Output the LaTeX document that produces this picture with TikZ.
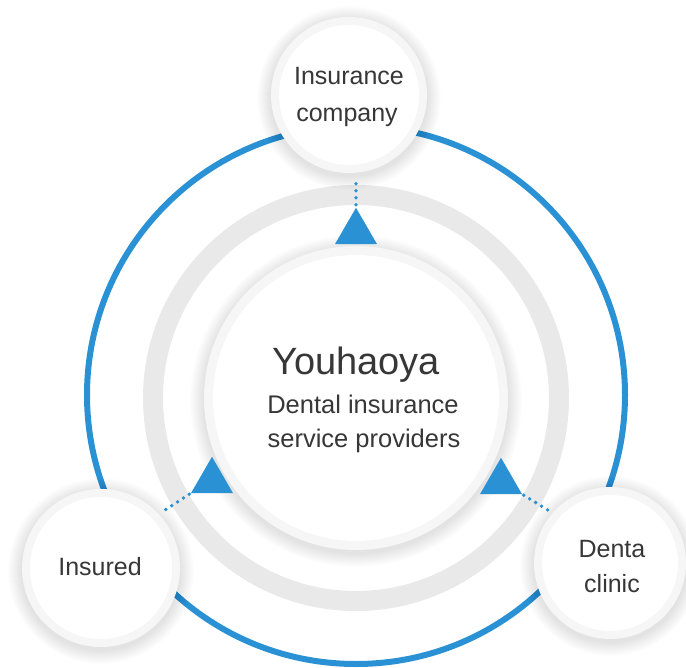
\documentclass[tikz,border=0pt]{standalone}
\usepackage{fontspec}
\setmainfont{Liberation Sans}
\usetikzlibrary{shapes.geometric}
\definecolor{myblue}{RGB}{42,146,212}
\definecolor{ringgray}{RGB}{233,233,233}
\definecolor{rimgray}{RGB}{246,246,246}
\definecolor{txt}{RGB}{55,55,55}
\newcommand\softshade[2]{%
  \foreach \k in {1,...,14} {\fill[black, opacity=0.007] ([yshift=-3pt]#1) circle ({#2+\k});}}
\tikzset{
  bubble/.style={circle, inner sep=0pt, outer sep=0pt, fill=rimgray},
  arrowtri/.style={regular polygon, regular polygon sides=3, minimum size=48.5pt, inner sep=0pt, outer sep=0pt, fill=myblue},
  dotline/.style={myblue, line width=3.8pt, line cap=round, dash pattern=on 0pt off 7pt},
  lbl/.style={text=txt, anchor=base, inner sep=0pt, font=\fontsize{25}{30}\selectfont},
  title/.style={text=txt, anchor=base, inner sep=0pt, font=\fontsize{38}{44}\selectfont},
  sub/.style={text=txt, anchor=base, inner sep=0pt, font=\fontsize{25.5}{30}\selectfont},
}
\begin{document}
\begin{tikzpicture}[x=1pt,y=-1pt]
\fill[white] (0,0) rectangle (686,668);
\useasboundingbox (0,0) rectangle (686,668);
\coordinate (ccore) at (356,398);
\coordinate (cins) at (349,95);
\coordinate (cinsured) at (101,568);
\coordinate (cclinic) at (610,563);
% blue outer circle
\draw[myblue, line width=6pt] (356,395) circle (269);
% gray ring
\draw[ringgray, line width=20pt] (ccore) circle (203);
% center circle
\softshade{ccore}{152}
\node[bubble, minimum size=304pt] (core) at (ccore) {};
\fill[white] (core.center) circle (143);
% triangles
\node[arrowtri] (ttop) at (356,232) {};
\node[arrowtri] (tleft) at (212,481) {};
\node[arrowtri] (tright) at (501,482) {};
% outer bubbles
\softshade{cins}{78}
\node[bubble, minimum size=156pt] (ins) at (cins) {};
\fill[white] (ins.center) circle (70);
\softshade{cinsured}{79}
\node[bubble, minimum size=158pt] (insured) at (cinsured) {};
\fill[white] (insured.center) circle (71);
\softshade{cclinic}{76}
\node[bubble, minimum size=152pt] (clinic) at (cclinic) {};
\fill[white] (clinic.center) circle (68);
% dotted connectors
\coordinate (dl) at (162,512);
\coordinate (dr) at (551,512);
\draw[dotline, shorten <=3pt, shorten >=4pt] (ttop.corner 1) -- (ttop.corner 1 |- ins.south);
\draw[dotline, shorten <=2pt] (tleft.corner 2) -- (dl);
\draw[dotline, shorten <=2pt] (tright.corner 3) -- (dr);
% texts
\node[lbl] (t1a) at (349,85) {Insurance};
\node[lbl] (t1b) at (347,122) {company};
\node[lbl] (t2) at (100,575) {Insured};
\node[lbl] (t3a) at (612,557) {Denta};
\node[lbl] (t3b) at (612,592) {clinic};
\node[title] (tt) at (356,375) {Youhaoya};
\node[sub] (s1) at (363,414) {Dental insurance};
\node[sub] (s2) at (364,448) {service providers};
\end{tikzpicture}
\end{document}
